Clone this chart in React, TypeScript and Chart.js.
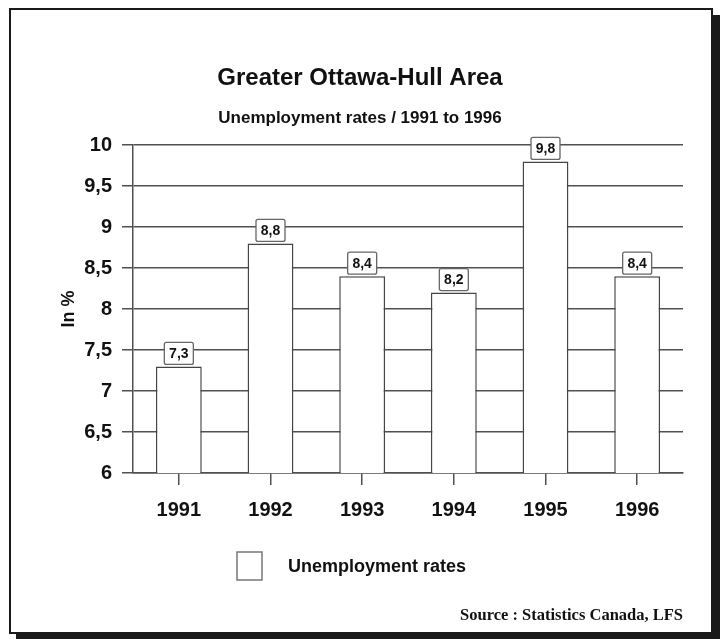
import React, { useEffect, useRef } from "react";
import { Chart, registerables } from "chart.js";

Chart.register(...registerables);

const years = ["1991", "1992", "1993", "1994", "1995", "1996"];
const rates = [7.3, 8.8, 8.4, 8.2, 9.8, 8.4];
const rateLabels = ["7,3", "8,8", "8,4", "8,2", "9,8", "8,4"];
const yTickValues = [6, 6.5, 7, 7.5, 8, 8.5, 9, 9.5, 10];
const yTickLabels = ["6", "6,5", "7", "7,5", "8", "8,5", "9", "9,5", "10"];
const titleText = "Greater Ottawa-Hull Area";
const subtitleText = "Unemployment rates / 1991 to 1996";
const yAxisTitle = "In %";
const legendLabel = "Unemployment rates";
const sourceText = "Source : Statistics Canada, LFS";

const SANS = "'Liberation Sans', Arial, sans-serif";
const SERIF = "'Liberation Serif', 'Times New Roman', serif";
const INK = "#111111";
const GRID = "#505050";

const W = 700;
const H = 622;

const overlayPlugin = {
  id: "overlay",
  afterDraw(chart: any) {
    const ctx = chart.ctx as CanvasRenderingContext2D;
    ctx.save();
    ctx.fillStyle = INK;
    ctx.textAlign = "center";
    ctx.textBaseline = "middle";

    // title & subtitle
    ctx.font = `bold 24px ${SANS}`;
    ctx.fillText(titleText, 349, 68);
    ctx.font = `bold 17px ${SANS}`;
    ctx.fillText(subtitleText, 349, 108);

    // value labels in boxes
    const meta = chart.getDatasetMeta(0);
    meta.data.forEach((bar: any, i: number) => {
      const bw = 29;
      const bh = 22;
      const x = bar.x - bw / 2;
      const y = bar.y - 2 - bh;
      ctx.beginPath();
      ctx.fillStyle = "#ffffff";
      ctx.strokeStyle = "#666666";
      ctx.lineWidth = 1.3;
      (ctx as any).roundRect
        ? (ctx as any).roundRect(x, y, bw, bh, 2)
        : ctx.rect(x, y, bw, bh);
      ctx.fill();
      ctx.stroke();
      ctx.fillStyle = INK;
      ctx.font = `bold 14px ${SANS}`;
      ctx.textAlign = "center";
      ctx.fillText(rateLabels[i], bar.x, y + bh / 2 + 1);
    });

    // legend
    ctx.fillStyle = "#ffffff";
    ctx.strokeStyle = "#777777";
    ctx.lineWidth = 1.5;
    ctx.fillRect(226, 542, 25, 28);
    ctx.strokeRect(226, 542, 25, 28);
    ctx.fillStyle = INK;
    ctx.textAlign = "left";
    ctx.font = `bold 18px ${SANS}`;
    ctx.fillText(legendLabel, 277, 557);

    // source
    ctx.textAlign = "right";
    ctx.font = `bold 16.5px ${SERIF}`;
    ctx.fillText(sourceText, 672, 606);

    ctx.restore();
  },
};

export default function App() {
  const ref = useRef<HTMLCanvasElement | null>(null);

  useEffect(() => {
    if (!ref.current) return;
    const chart = new Chart(ref.current, {
      type: "bar",
      data: {
        labels: years,
        datasets: [
          {
            label: legendLabel,
            data: rates,
            backgroundColor: "#ffffff",
            borderColor: "#444444",
            borderWidth: 1.5,
            barPercentage: 0.5,
            categoryPercentage: 1,
          },
        ],
      },
      options: {
        animation: false,
        responsive: false,
        devicePixelRatio: 1,
        layout: { padding: { top: 135, right: 28, bottom: 89, left: 40 } },
        plugins: {
          legend: { display: false },
          title: { display: false },
          tooltip: { enabled: false },
        },
        scales: {
          x: {
            offset: true,
            grid: {
              display: true,
              offset: false,
              drawOnChartArea: false,
              drawTicks: true,
              tickLength: 12,
              color: GRID,
              lineWidth: 1.5,
            },
            border: { display: true, color: GRID, width: 1.5 },
            ticks: {
              color: INK,
              padding: 13,
              font: { family: SANS, size: 20, weight: "bold" },
            },
            afterFit: (scale: any) => {
              scale.height = 70;
            },
          },
          y: {
            min: 6,
            max: 10,
            grid: {
              color: GRID,
              lineWidth: 1.5,
              drawTicks: true,
              tickLength: 11,
            },
            border: { display: true, color: GRID, width: 1.5 },
            ticks: {
              stepSize: 0.5,
              color: INK,
              padding: 10,
              font: { family: SANS, size: 20, weight: "bold" },
              callback: (v: any) => {
                const i = yTickValues.indexOf(Number(v));
                return i >= 0 ? yTickLabels[i] : String(v).replace(".", ",");
              },
            },
            title: {
              display: true,
              text: yAxisTitle,
              color: INK,
              padding: { top: 7, bottom: 0 },
              font: { family: SANS, size: 18, weight: "bold" },
            },
            afterFit: (scale: any) => {
              scale.width = 82;
            },
          },
        },
      } as any,
      plugins: [overlayPlugin],
    });
    return () => chart.destroy();
  }, []);

  return (
    <div
      style={{
        position: "fixed",
        left: 9,
        top: 8,
        width: W,
        height: H,
        border: "2px solid #1a1a1a",
        boxShadow: "7px 7px 0 #1a1a1a",
        background: "#ffffff",
      }}
    >
      <canvas ref={ref} width={W} height={H} style={{ display: "block" }} />
    </div>
  );
}
